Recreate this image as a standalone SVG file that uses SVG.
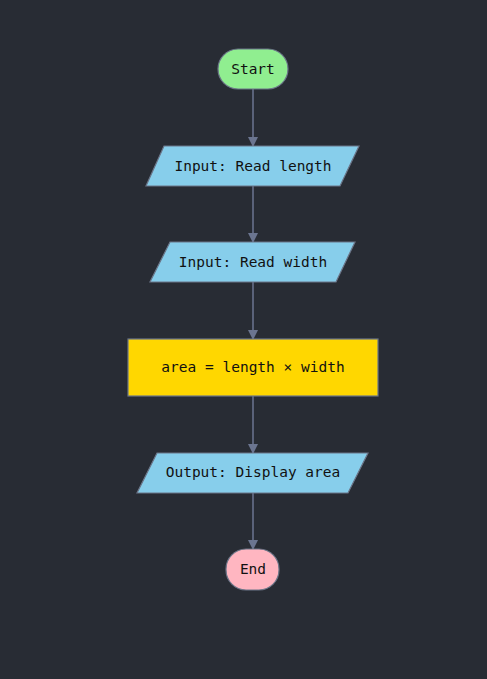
<svg xmlns="http://www.w3.org/2000/svg" width="487" height="679" viewBox="0 0 487 679">
<style>
.n{stroke:#6b7588;stroke-width:1.2}
.t{font-family:"DejaVu Sans Mono","Liberation Mono",monospace;font-size:14.5px;fill:#111;text-anchor:middle;dominant-baseline:central}
.c{stroke:#6b7590;stroke-width:1.5;fill:none}
</style>
<defs>
<marker id="ah" markerWidth="10" markerHeight="10" refX="9" refY="5" orient="auto" markerUnits="userSpaceOnUse">
<path d="M0,0 L10,5 L0,10 Z" fill="#6b7590"/>
</marker>
</defs>
<rect width="487" height="679" fill="#282c34"/>
<g id="connectors">
<path class="c" d="M253,89 L253,146" marker-end="url(#ah)"/>
<path class="c" d="M253,186 L253,242" marker-end="url(#ah)"/>
<path class="c" d="M253,282 L253,339" marker-end="url(#ah)"/>
<path class="c" d="M253,396 L253,453" marker-end="url(#ah)"/>
<path class="c" d="M253,493 L253,549" marker-end="url(#ah)"/>
</g>
<g id="start">
<rect class="n" x="218" y="49" width="70" height="40" rx="20" fill="#90ee90"/>
<text class="t" x="253" y="69">Start</text>
</g>
<g id="input_length">
<polygon class="n" points="164,146 359,146 340,186 146,186" fill="#87ceeb"/>
<text class="t" x="253" y="166">Input: Read length</text>
</g>
<g id="input_width">
<polygon class="n" points="170,242 355,242 336,282 150,282" fill="#87ceeb"/>
<text class="t" x="253" y="262">Input: Read width</text>
</g>
<g id="compute">
<rect class="n" x="128" y="339" width="250" height="57" fill="#ffd700"/>
<text class="t" x="253" y="367">area = length × width</text>
</g>
<g id="output">
<polygon class="n" points="157,453 368,453 348,493 137,493" fill="#87ceeb"/>
<text class="t" x="253" y="472">Output: Display area</text>
</g>
<g id="end">
<rect class="n" x="226" y="549" width="53" height="41" rx="20" fill="#ffb6c1"/>
<text class="t" x="253" y="569">End</text>
</g>
</svg>
